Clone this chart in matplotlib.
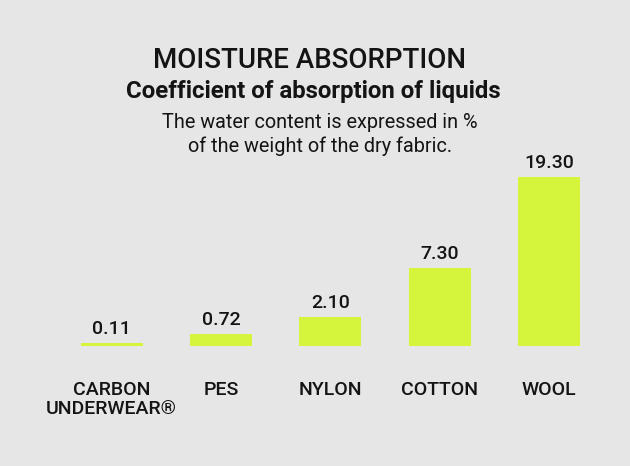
import numpy as np
import matplotlib.pyplot as plt

# data
categories = ['CARBON\nUNDERWEAR®', 'PES', 'NYLON', 'COTTON', 'WOOL']
values = [0.11, 0.72, 2.10, 7.30, 19.30]
value_labels = ['0.11', '0.72', '2.10', '7.30', '19.30']

bg = '#e6e6e6'
lime = '#d4f53c'
ink = '#141414'
plt.rcParams['font.family'] = ['Roboto', 'DejaVu Sans']

fig = plt.figure(figsize=(6.3, 4.66), dpi=100, facecolor=bg)
ax = fig.add_axes([0.0905, 0.2575, 0.8677, 0.3627])
ax.set_facecolor(bg)

# bars in the original are not linear, a power scale fits them well
p = 0.8
ax.set_yscale('function', functions=(lambda v: np.power(np.clip(v, 0, None), p),
                                     lambda v: np.power(np.clip(v, 0, None), 1 / p)))
x = np.arange(len(values))
ax.bar(x, values, width=0.565, color=lime)
ax.set_xlim(-0.5, 4.5)
ax.set_ylim(0, 19.3)

for xi, v, lab in zip(x, values, value_labels):
    ax.annotate(lab, (xi, v), xytext=(0, 6.5), textcoords='offset points',
                ha='center', va='baseline', fontsize=14, fontweight='medium', color=ink,
                annotation_clip=False)
for xi, c in zip(x, categories):
    ax.annotate(c, (xi, 0), xytext=(0, -25), textcoords='offset points',
                ha='center', va='top', fontsize=14, fontweight='medium', color=ink,
                linespacing=1.1, annotation_clip=False)

ax.axis('off')

fig.text(0.492, 0.854, 'MOISTURE ABSORPTION', ha='center', va='baseline',
         fontsize=20, fontweight='medium', color=ink)
fig.text(0.497, 0.79, 'Coefficient of absorption of liquids', ha='center', va='baseline',
         fontsize=17.3, fontweight='bold', color=ink)
fig.text(0.508, 0.7253, 'The water content is expressed in %', ha='center', va='baseline',
         fontsize=14.3, color=ink)
fig.text(0.508, 0.6745, 'of the weight of the dry fabric.', ha='center', va='baseline',
         fontsize=14.3, color=ink)

fig.savefig('out.png', dpi=100, facecolor=bg)
